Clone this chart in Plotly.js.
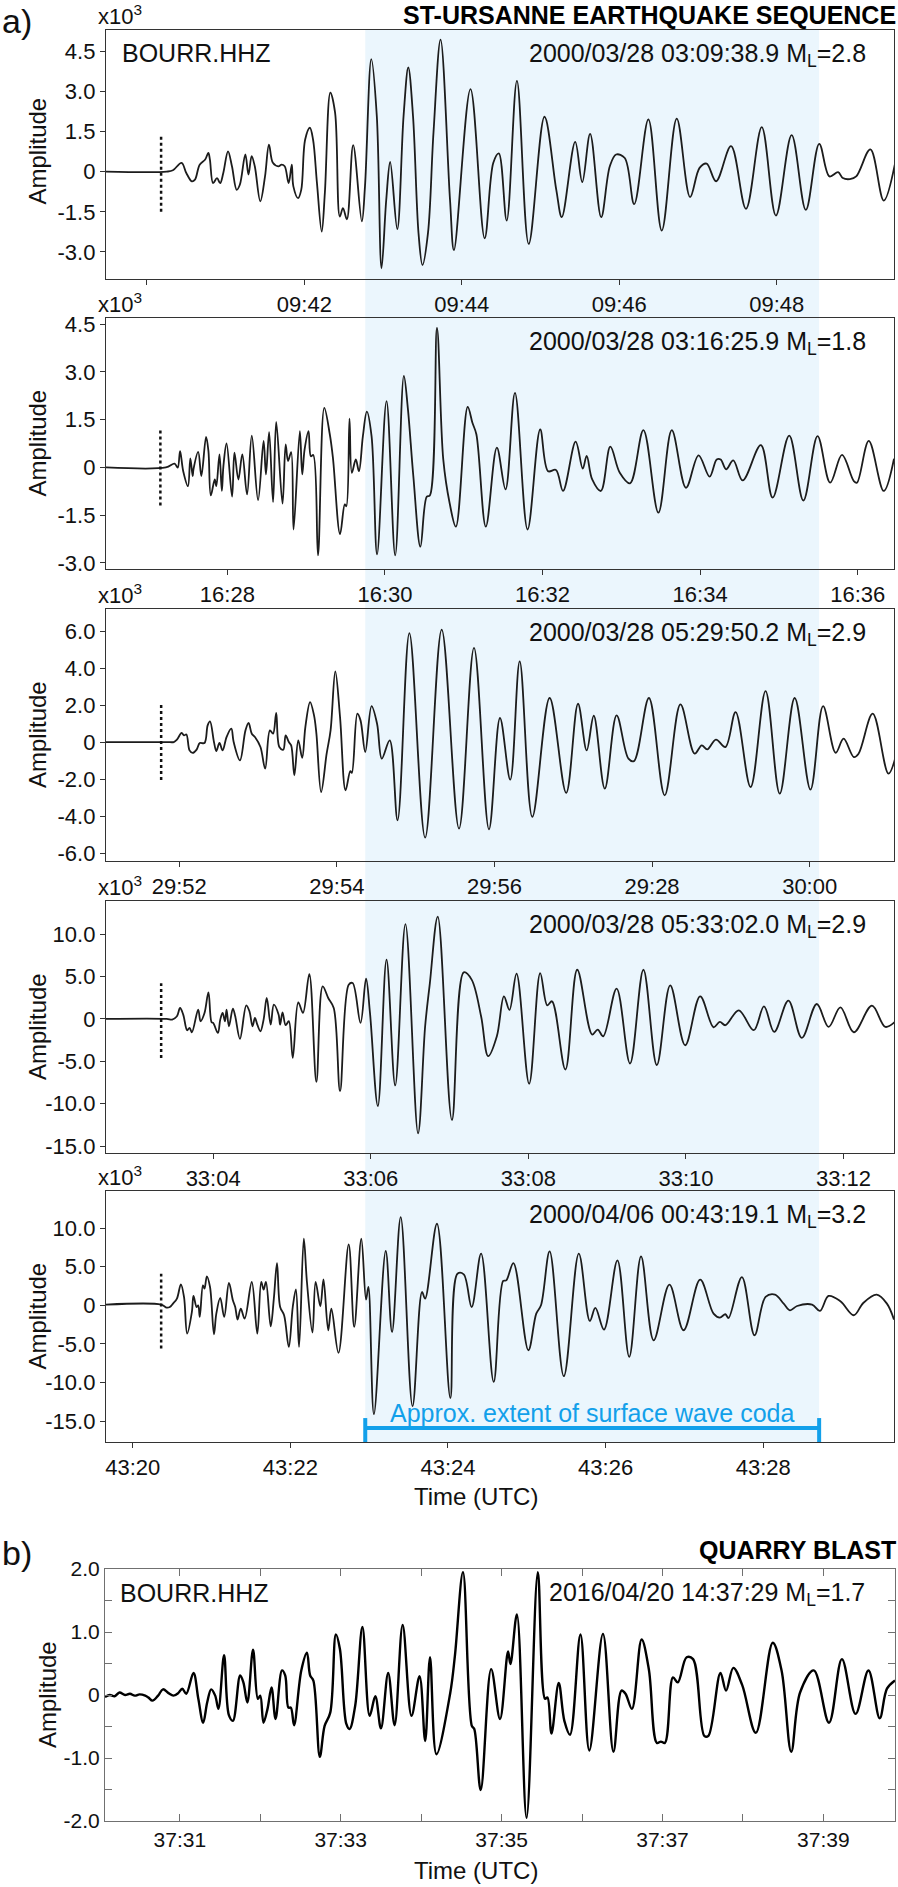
<!DOCTYPE html>
<html><head><meta charset="utf-8">
<script src="https://cdn.plot.ly/plotly-3.0.1.min.js"></script>
<style>html,body{margin:0;padding:0;background:#fff}#chart{width:898px;height:1887px}</style>
</head><body><div id="chart"></div>
<script>
// ---------- DATA (time in seconds within the minute shown on the axis, amplitude in x10^3 counts) ----------
const t1 = [39.48,40.25,40.33,40.44,40.50,40.57,40.61,40.67,40.74,40.78,40.80,40.84,40.89,40.93,40.97,41.03,41.08,41.14,41.18,41.25,41.29,41.33,41.37,41.44,41.50,41.55,41.60,41.67,41.71,41.75,41.80,41.84,41.86,41.92,41.96,42.01,42.07,42.11,42.16,42.22,42.26,42.33,42.39,42.45,42.49,42.54,42.62,42.73,42.77,42.85,42.92,42.98,43.04,43.09,43.18,43.26,43.32,43.38,43.45,43.50,43.57,43.64,43.73,43.85,43.90,44.11,44.29,44.40,44.47,44.57,44.70,44.85,45.05,45.20,45.27,45.44,45.53,45.63,45.77,45.88,45.96,46.07,46.19,46.37,46.54,46.73,46.90,47.02,47.11,47.23,47.42,47.61,47.81,47.99,48.19,48.37,48.54,48.67,48.78,48.84,48.93,49.01,49.19,49.36,49.50];
const a1 = [0,0,0.05,0.33,-0.05,-0.36,-0.30,0.26,0.45,0.70,0.45,-0.43,-0.24,-0.43,-0.05,0.76,0.20,-0.68,-0.49,0.64,-0.11,0.58,0.20,-1.11,-0.18,1.01,0.33,0.20,0.26,0.20,-0.43,0.26,-0.55,-0.99,-0.68,1.20,1.64,1.20,-0.43,-2.24,-0.80,2.95,2.20,-1.68,-1.36,-1.78,0.99,-1.86,-0.55,4.20,2.08,-3.61,-1.05,0.36,-2.15,2.08,3.89,2.08,-2.30,-3.49,-2.30,1.45,4.93,-1.05,-2.93,3.08,-2.49,0.33,0.68,-1.83,3.39,-2.70,2.05,-0.68,-1.70,1.11,-0.39,1.41,-1.70,0.20,0.64,0.51,-1.21,1.95,-2.20,1.98,-0.95,0.14,0.30,-0.36,0.95,-1.39,1.66,-1.64,1.36,-1.43,1.04,-0.18,-0.02,-0.24,-0.28,-0.18,0.83,-1.08,0.26];

const t2 = [26.46,27.22,27.33,27.37,27.40,27.44,27.50,27.53,27.56,27.57,27.63,27.67,27.73,27.76,27.79,27.84,27.86,27.90,27.93,27.95,27.99,28.06,28.09,28.14,28.19,28.25,28.31,28.39,28.46,28.49,28.53,28.58,28.62,28.70,28.74,28.77,28.81,28.84,28.92,28.95,28.98,29.03,29.06,29.09,29.15,29.23,29.30,29.34,29.43,29.49,29.51,29.55,29.58,29.63,29.67,29.72,29.77,29.83,29.90,30.02,30.13,30.24,30.29,30.36,30.45,30.53,30.57,30.66,30.74,30.82,30.90,31.05,31.11,31.16,31.28,31.42,31.53,31.65,31.81,31.97,32.07,32.17,32.26,32.42,32.51,32.56,32.63,32.74,32.86,32.98,33.11,33.28,33.47,33.64,33.82,33.98,34.12,34.21,34.26,34.33,34.42,34.54,34.77,34.92,35.13,35.31,35.49,35.65,35.80,35.95,35.99,36.14,36.33,36.46];
const a2 = [0,0,0.12,-0.01,0.51,-0.12,-0.59,0.28,-0.27,-0.06,0.49,-0.27,0.96,0.51,-0.88,-0.38,-0.59,0.41,-0.74,0.04,0.75,-0.92,0.46,-0.38,0.41,-0.85,1.00,-1.03,0.83,-0.22,1.11,-1.09,1.43,-1.14,0.72,0.20,0.48,-1.95,1.14,-0.22,0.56,1.14,0.35,0.39,-2.76,1.87,1.04,0.30,-2.10,-1.16,-1.22,1.53,-0.17,0.25,-0.12,0.98,1.75,0.98,-2.73,2.08,-2.76,2.87,1.87,-0.27,-2.49,-0.92,-0.88,4.38,0.25,-1.11,-1.86,1.90,1.40,1.04,-1.86,0.62,-0.69,2.34,-1.95,1.19,-0.12,-0.08,-0.74,0.81,-0.04,0.36,-0.38,-0.74,0.65,-0.17,-0.50,1.17,-1.42,1.17,-0.64,0.38,-0.29,0.25,0.25,-0.06,0.22,-0.41,0.70,-0.95,1.00,-1.04,0.98,-0.48,0.39,-0.43,-0.48,0.83,-0.74,0.27];

const t3 = [51.07,51.84,51.93,51.97,52.03,52.06,52.09,52.13,52.17,52.22,52.26,52.32,52.36,52.39,52.44,52.47,52.51,52.55,52.60,52.66,52.69,52.77,52.84,52.88,52.92,52.96,53.03,53.09,53.15,53.19,53.23,53.27,53.32,53.35,53.39,53.42,53.46,53.51,53.56,53.60,53.66,53.71,53.74,53.80,53.87,53.92,53.98,54.04,54.11,54.17,54.19,54.26,54.30,54.36,54.44,54.51,54.57,54.67,54.77,54.92,55.12,55.33,55.55,55.74,55.93,56.07,56.20,56.32,56.48,56.70,56.91,57.06,57.17,57.26,57.40,57.55,57.70,57.77,57.96,58.16,58.36,58.54,58.63,58.70,58.81,58.93,59.06,59.25,59.44,59.62,59.81,60.01,60.17,60.33,60.43,60.56,60.62,60.80,61.00,61.10];
const a3 = [0,0,0,0.13,0.49,0.36,0.41,-0.45,-0.59,-0.41,-0.05,-0.05,0.90,1.12,0,-0.49,-0.05,-0.45,0.27,0.72,0,-0.99,0.63,1.03,0.45,0.27,-0.27,-1.44,0.63,0.45,1.57,-0.27,-0.41,0.36,0,-0.18,-1.80,0.09,-0.85,0.81,2.16,1.44,0.45,-2.70,-0.63,0.63,3.82,1.35,-2.61,-1.57,-1.67,1.53,1.17,-0.54,1.94,0.99,-0.90,0.09,-4.23,5.89,-5.17,6.08,-4.68,5.09,-4.72,1.30,-2.03,4.36,-4.05,2.38,-2.75,2.07,-0.45,1.42,-2.52,1.44,-0.90,-1.03,2.38,-2.88,2.03,-0.63,-0.18,-0.40,0.13,-0.27,1.62,-2.43,2.75,-2.79,2.38,-2.57,1.94,-0.58,0.18,-0.81,-0.63,1.53,-1.71,-0.63];

const t4 = [2.64,3.41,3.48,3.54,3.58,3.62,3.67,3.70,3.73,3.81,3.84,3.89,3.94,3.98,4.00,4.06,4.09,4.12,4.15,4.17,4.20,4.25,4.28,4.34,4.42,4.46,4.50,4.53,4.56,4.60,4.64,4.68,4.73,4.77,4.83,4.85,4.88,4.92,4.96,5.01,5.08,5.14,5.22,5.31,5.39,5.46,5.53,5.61,5.72,5.77,5.87,5.94,5.99,6.09,6.20,6.31,6.44,6.60,6.69,6.75,6.85,7.03,7.18,7.28,7.40,7.49,7.60,7.69,7.76,7.85,8.01,8.15,8.24,8.30,8.47,8.62,8.81,8.88,8.95,9.12,9.29,9.46,9.63,9.80,9.99,10.18,10.35,10.43,10.50,10.67,10.86,10.99,11.12,11.30,11.47,11.66,11.81,11.96,12.13,12.36,12.53,12.66];
const a4 = [0,0,-0.08,0.31,1.29,0.51,-1.33,-1.06,-1.57,1.10,-0.27,0.71,3.14,-0.39,-0.47,-1.65,-0.08,0.71,-0.27,1.10,-0.86,1.22,0.31,-2.35,1.61,0.90,-0.86,0.12,-0.67,-1.45,-0.08,2.47,-0.67,1.69,0.51,-0.67,0.78,-0.74,-0.27,-4.59,1.96,0.71,5.29,-7.41,3.84,2.47,1.29,-8.51,4.04,4.23,-0.47,4.74,0.71,-10.27,6.98,-7.84,11.17,-13.48,-0.86,4.23,12.07,-11.90,5.49,4.63,0.31,-4.39,-2.04,2.67,1.06,5.33,-7.64,5.41,1.61,2.08,-5.96,5.80,-1.84,-1.25,-2.04,3.57,-5.25,5.80,-5.45,3.96,-3.10,2.67,-0.98,-0.35,-0.74,1.02,-1.33,1.49,-1.53,2.16,-2.23,1.76,-0.94,1.37,-1.57,1.57,-0.94,-0.27];

const t5 = [19.66,20.36,20.43,20.47,20.51,20.56,20.61,20.65,20.69,20.75,20.77,20.81,20.83,20.85,20.89,20.91,20.94,20.98,21.03,21.06,21.11,21.16,21.22,21.27,21.30,21.33,21.37,21.42,21.51,21.58,21.63,21.66,21.69,21.75,21.79,21.83,21.87,21.92,21.98,22.03,22.07,22.11,22.17,22.21,22.28,22.32,22.38,22.42,22.48,22.52,22.61,22.74,22.81,22.90,22.96,22.99,23.06,23.21,23.29,23.40,23.55,23.67,23.71,23.86,24.03,24.12,24.20,24.30,24.42,24.58,24.70,24.74,24.83,25.02,25.12,25.18,25.29,25.47,25.66,25.80,25.87,25.98,26.15,26.30,26.45,26.61,26.81,26.99,27.20,27.37,27.45,27.52,27.56,27.73,27.89,28.03,28.15,28.26,28.34,28.43,28.62,28.72,28.83,28.98,29.15,29.27,29.44,29.57,29.66];
const a5 = [0.09,0.09,-0.30,-0.22,0.22,0.86,2.72,1.08,-3.66,-0.86,1.21,-0.22,0,-1.51,2.59,2.16,3.75,2.37,-3.75,-1.08,0.95,-1.51,2.89,0.65,-0.22,-1.85,-0.43,-1.72,3.02,-3.66,3.02,2.03,3.02,-2.72,0.86,5.47,-0.22,-1.29,-5.39,-0.22,2.07,-5.39,8.62,3.02,-3.53,3.02,-0.13,3.36,-3.23,-0.43,-6.16,7.89,-2.80,8.62,0.73,2.37,-14.09,7.03,-3.45,11.42,-13.06,1.72,0.86,10.56,-12.00,4.09,4.01,-0.22,6.68,-9.91,3.15,3.23,5.47,-5.82,-1.08,0,6.98,-9.18,6.68,-2.03,-0.34,-3.15,5.82,-6.68,6.34,-4.53,2.67,-3.23,3.32,-1.08,-1.59,-1.16,-1.64,3.66,-3.88,1.08,1.38,0.22,-0.65,-0.09,0.09,-0.73,1.21,0.52,-1.29,0.30,1.38,0.22,-1.85];

const tb = [30.07,30.13,30.19,30.25,30.32,30.38,30.44,30.50,30.57,30.61,30.66,30.73,30.79,30.86,30.92,30.98,31.03,31.08,31.17,31.23,31.29,31.34,31.39,31.44,31.48,31.55,31.61,31.66,31.75,31.79,31.84,31.91,31.97,32.00,32.04,32.09,32.14,32.19,32.27,32.31,32.35,32.38,32.42,32.51,32.58,32.62,32.66,32.74,32.80,32.87,32.94,32.99,33.07,33.11,33.18,33.27,33.36,33.43,33.50,33.59,33.67,33.77,33.88,33.98,34.05,34.11,34.19,34.36,34.42,34.52,34.63,34.66,34.74,34.87,34.98,35.08,35.11,35.19,35.31,35.45,35.54,35.57,35.62,35.71,35.78,35.85,35.98,36.09,36.26,36.39,36.49,36.54,36.62,36.74,36.83,36.93,36.98,37.03,37.13,37.19,37.30,37.38,37.52,37.57,37.72,37.79,37.88,37.99,38.16,38.37,38.48,38.60,38.71,38.88,39.07,39.23,39.40,39.56,39.70,39.79,39.89];
const ab = [-0.03,0,-0.02,0.04,0,0.02,-0.01,0.01,-0.01,-0.04,-0.09,-0.01,0.09,0.03,-0.01,0.03,0.10,0.02,0.35,-0.06,-0.44,-0.12,0.09,-0.01,-0.22,0.63,-0.32,-0.41,0.31,0.20,-0.12,0.72,-0.06,-0.01,-0.44,-0.22,0.12,-0.38,0.39,0.31,-0.20,-0.20,-0.48,0.39,0.67,0.31,0.23,-0.98,-0.49,-0.28,0.96,0.73,-0.46,-0.54,-0.17,1.08,-0.33,-0.02,-0.53,0.35,-0.48,1.11,-0.33,0.30,-0.73,0.60,-0.94,0.02,0.63,1.95,-0.49,-0.54,-1.51,0.41,-0.38,0.69,0.49,1.28,-1.95,1.95,-0.06,-0.04,-0.61,0.19,-0.41,-0.63,0.96,-0.88,0.97,-0.90,0.07,0.02,-0.22,0.88,0.41,-0.76,-0.74,-0.76,0.28,0.20,0.60,0.57,-0.65,-0.65,0.35,0.07,0.43,0.16,-0.60,0.83,0.39,-0.90,0.04,0.39,-0.44,0.57,-0.30,0.39,-0.37,0.10,0.23];

// axis ranges and ticks
const xRanges = [[39.48,49.49],[26.46,36.46],[51.07,61.07],[2.64,12.64],[19.66,29.66],[30.07,39.89]];
const yRanges = [[-4.01,5.29],[-3.19,4.69],[-6.43,7.19],[-15.8,13.9],[-17.7,14.8],[-2,2]];
const xTickVals1 = [40,42,44,46,48];   const xTickText1 = ['','09:42','09:44','09:46','09:48'];
const xTickVals2 = [28,30,32,34,36];   const xTickText2 = ['16:28','16:30','16:32','16:34','16:36'];
const xTickVals3 = [52,54,56,58,60];   const xTickText3 = ['29:52','29:54','29:56','29:28','30:00'];
const xTickVals4 = [4,6,8,10,12];      const xTickText4 = ['33:04','33:06','33:08','33:10','33:12'];
const xTickVals5 = [20,22,24,26,28];   const xTickText5 = ['43:20','43:22','43:24','43:26','43:28'];
const xTickValsB = [31,32,33,34,35,36,37,38,39]; const xTickTextB = ['37:31','','37:33','','37:35','','37:37','','37:39'];
const yTickVals12 = [-3,-1.5,0,1.5,3,4.5]; const yTickText12 = ['-3.0','-1.5','0','1.5','3.0','4.5'];
const yTickVals3 = [-6,-4,-2,0,2,4,6];   const yTickText3 = ['-6.0','-4.0','-2.0','0','2.0','4.0','6.0'];
const yTickVals45 = [-15,-10,-5,0,5,10];  const yTickText45 = ['-15.0','-10.0','-5.0','0','5.0','10.0'];
const yTickValsB = [-2,-1.5,-1,-0.5,0,0.5,1,1.5,2]; const yTickTextB = ['-2.0','','-1.0','','0','','1.0','','2.0'];

const eventLabels = ['2000/03/28 03:09:38.9 M<sub>L</sub>=2.8','2000/03/28 03:16:25.9 M<sub>L</sub>=1.8','2000/03/28 05:29:50.2 M<sub>L</sub>=2.9','2000/03/28 05:33:02.0 M<sub>L</sub>=2.9','2000/04/06 00:43:19.1 M<sub>L</sub>=3.2','2016/04/20 14:37:29 M<sub>L</sub>=1.7'];
const pickTimes = [40.18,27.15,51.77,3.34,20.36];
const pickLow = [-1.5,-1.2,-2.05,-4.6,-5.6];
const pickHigh = [1.4,1.2,2.0,4.2,4.1];
const codaStart = 22.95, codaEnd = 28.71;   // panel 5 time (s)

// ---------- LAYOUT ----------
const W = 898, H = 1887;
const FONT = '"Liberation Sans", Arial, Helvetica, sans-serif';
const px = p => p / W;
const py = p => 1 - p / H;
const tops = [30,318,609,901,1191,1569];
const bots = [279,569,861,1153,1442,1821];
const lefts = [106,106,106,106,106,105];
const rights = [894,894,894,894,894,895];
const ts = [t1,t2,t3,t4,t5,tb], as = [a1,a2,a3,a4,a5,ab];
const xTV = [xTickVals1,xTickVals2,xTickVals3,xTickVals4,xTickVals5,xTickValsB];
const xTT = [xTickText1,xTickText2,xTickText3,xTickText4,xTickText5,xTickTextB];
const yTV = [yTickVals12,yTickVals12,yTickVals3,yTickVals45,yTickVals45,yTickValsB];
const yTT = [yTickText12,yTickText12,yTickText3,yTickText45,yTickText45,yTickTextB];

const data = [];
const layout = {
  width: W, height: H, margin: {l:0,r:0,t:0,b:0},
  paper_bgcolor: '#ffffff', plot_bgcolor: 'rgba(0,0,0,0)',
  showlegend: false, font: {family: FONT, color: '#111'},
  shapes: [], annotations: []
};
const BLUE = '#12a0ea';

for (let i = 0; i < 6; i++) {
  const n = i === 0 ? '' : String(i + 1);
  const isB = i === 5;
  data.push({
    x: ts[i], y: as[i], type: 'scatter', mode: 'lines',
    xaxis: 'x' + n, yaxis: 'y' + n, hoverinfo: 'skip',
    line: {color: isB ? '#000' : '#1c1c1c', width: isB ? 2.4 : 1.8, shape: 'spline', smoothing: 1}
  });
  const common = {
    showgrid: false, zeroline: false, showline: true, automargin: false, fixedrange: true,
    linecolor: isB ? '#707070' : '#333', linewidth: isB ? 1 : 1.2,
    ticks: isB ? 'inside' : 'outside', ticklen: isB ? 7 : 5, tickwidth: 1,
    tickcolor: isB ? '#707070' : '#333',
    mirror: isB ? 'ticks' : true,
    tickmode: 'array',
    tickfont: {family: FONT, size: isB ? 21 : 22, color: '#111'}
  };
  layout['xaxis' + n] = Object.assign({}, common, {
    domain: [px(lefts[i]), px(rights[i])], range: xRanges[i], anchor: 'y' + n,
    tickvals: xTV[i], ticktext: xTT[i]
  });
  layout['yaxis' + n] = Object.assign({}, common, {
    domain: [py(bots[i]), py(tops[i])], range: yRanges[i], anchor: 'x' + n,
    tickvals: yTV[i], ticktext: yTT[i]
  });
  // event label
  layout.annotations.push({
    text: eventLabels[i], xref: 'paper', yref: 'paper', showarrow: false,
    x: px(isB ? 867 : 868), xanchor: 'right', y: py(tops[i] + 24.5), yanchor: 'middle',
    font: {size: 25, color: '#111', family: FONT}
  });
  // Amplitude label
  layout.annotations.push({
    text: 'Amplitude', xref: 'paper', yref: 'paper', showarrow: false, textangle: -90,
    x: px(isB ? 47 : 37), xanchor: 'center', y: py((tops[i] + bots[i]) / 2 - (i === 0 ? 3 : 0)), yanchor: 'middle',
    font: {size: 24, color: '#111', family: FONT}
  });
  if (!isB) {
    layout.annotations.push({
      text: 'x10<sup>3</sup>', xref: 'paper', yref: 'paper', showarrow: false,
      x: px(96), xanchor: 'left', y: py(tops[i] - 15), yanchor: 'middle',
      font: {size: 22, color: '#111', family: FONT}
    });
    layout.shapes.push({
      type: 'line', xref: 'x' + n, yref: 'y' + n,
      x0: pickTimes[i], x1: pickTimes[i], y0: pickLow[i], y1: pickHigh[i],
      line: {color: '#111', width: 2.5, dash: 'dot'}
    });
  }
}

// shaded surface-wave coda band across panels a
layout.shapes.unshift({
  type: 'rect', xref: 'x5', yref: 'paper', x0: codaStart, x1: codaEnd,
  y0: py(1442), y1: py(30), fillcolor: '#ebf6fd', line: {width: 0}, layer: 'below'
});
// coda extent bar
layout.shapes.push({type: 'line', xref: 'x5', yref: 'y5', x0: codaStart, x1: codaEnd, y0: -15.9, y1: -15.9, line: {color: BLUE, width: 4}});
layout.shapes.push({type: 'line', xref: 'x5', yref: 'y5', x0: codaStart, x1: codaStart, y0: -14.6, y1: -17.7, line: {color: BLUE, width: 4}});
layout.shapes.push({type: 'line', xref: 'x5', yref: 'y5', x0: codaEnd, x1: codaEnd, y0: -14.6, y1: -17.7, line: {color: BLUE, width: 4}});
layout.annotations.push({
  text: 'Approx. extent of surface wave coda', xref: 'x5', yref: 'paper', showarrow: false,
  x: (codaStart + codaEnd) / 2, xanchor: 'center', y: py(1413), yanchor: 'middle',
  font: {size: 25, color: BLUE, family: FONT}
});

// station labels
layout.annotations.push({text: 'BOURR.HHZ', xref: 'paper', yref: 'paper', showarrow: false, x: px(120), xanchor: 'left', y: py(53), yanchor: 'middle', font: {size: 25, color: '#111', family: FONT}});
layout.annotations.push({text: 'BOURR.HHZ', xref: 'paper', yref: 'paper', showarrow: false, x: px(118), xanchor: 'left', y: py(1593), yanchor: 'middle', font: {size: 25, color: '#111', family: FONT}});
// panel letters and headings
layout.annotations.push({text: 'a)', xref: 'paper', yref: 'paper', showarrow: false, x: 0, xanchor: 'left', y: py(21), yanchor: 'middle', font: {size: 34, color: '#111', family: FONT}});
layout.annotations.push({text: 'b)', xref: 'paper', yref: 'paper', showarrow: false, x: 0, xanchor: 'left', y: py(1553), yanchor: 'middle', font: {size: 34, color: '#111', family: FONT}});
layout.annotations.push({text: '<b>ST-URSANNE EARTHQUAKE SEQUENCE</b>', xref: 'paper', yref: 'paper', showarrow: false, x: 1, xanchor: 'right', y: py(15), yanchor: 'middle', font: {size: 25, color: '#000', family: FONT}});
layout.annotations.push({text: '<b>QUARRY BLAST</b>', xref: 'paper', yref: 'paper', showarrow: false, x: px(898), xanchor: 'right', y: py(1550), yanchor: 'middle', font: {size: 25, color: '#000', family: FONT}});
// time axis titles
layout.annotations.push({text: 'Time (UTC)', xref: 'paper', yref: 'paper', showarrow: false, x: px(476), xanchor: 'center', y: py(1496), yanchor: 'middle', font: {size: 24, color: '#111', family: FONT}});
layout.annotations.push({text: 'Time (UTC)', xref: 'paper', yref: 'paper', showarrow: false, x: px(476), xanchor: 'center', y: py(1870), yanchor: 'middle', font: {size: 24, color: '#111', family: FONT}});

Plotly.newPlot('chart', data, layout, {staticPlot: true, displayModeBar: false});
</script>
</body></html>
